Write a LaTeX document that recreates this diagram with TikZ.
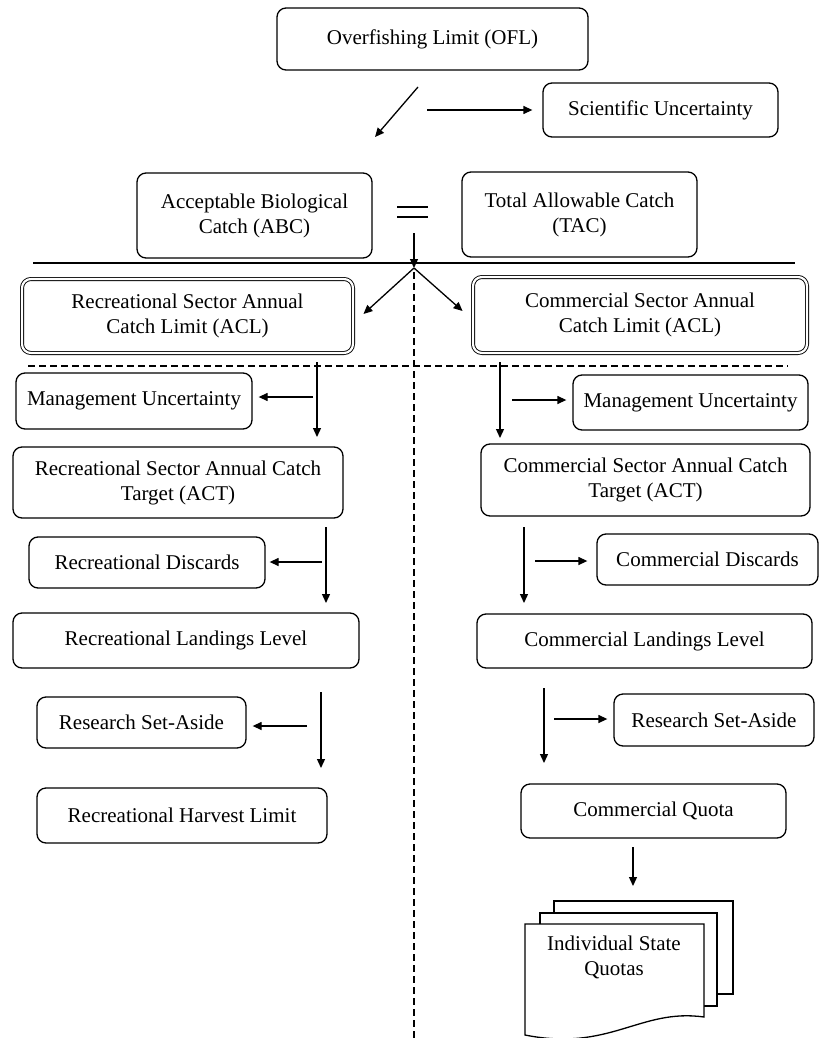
\documentclass[tikz,border=0pt]{standalone}
\usepackage{fontspec}
\setmainfont{Liberation Serif}
\usetikzlibrary{arrows.meta,positioning}

\begin{document}
\begin{tikzpicture}[x=1pt,y=-1pt,
        every node/.style={font=\fontsize{21}{25}\selectfont, align=center},
        box/.style={draw, rounded corners=9pt, line width=1.3pt, inner sep=2pt},
        dbox/.style={box, double, double distance=2.2pt, line width=0.9pt},
        arr/.style={-{Triangle[length=9pt,width=8pt]}, line width=1.3pt},
        sep/.style={line width=1.2pt, dash pattern=on 7pt off 4pt},
        sheet/.style={draw, fill=white, line width=1.3pt}]
    \useasboundingbox (0,0) rectangle (821,1038);

    % top part
    \node[box, minimum width=311pt, minimum height=62pt] (ofl) at (432.5,39) {Overfishing Limit (OFL)};
    \node[box, minimum width=235pt, minimum height=54pt] (sci) at (660.5,110) {Scientific Uncertainty};
    \node[box, minimum width=235pt, minimum height=85pt] (abc) at (254.5,215.5) {Acceptable Biological\\Catch (ABC)};
    \node[box, minimum width=235pt, minimum height=85pt] (tac) at (579.5,214.5) {Total Allowable Catch\\(TAC)};

    \coordinate (d1) at (418,87);
    \coordinate (d2) at (375,137);
    \coordinate (s1) at (427,110);
    \draw[arr] (d1) -- (d2);
    \draw[arr] (s1) -- ([xshift=-10pt]sci.west);

    \draw[line width=1.3pt] (397,207) -- (428,207) (397,217) -- (428,217);

    % split into the two sectors
    \coordinate (eq) at (414,233);
    \coordinate (j) at (414,268);
    \draw[line width=1.3pt] (33,263) -- (795,263);
    \draw[arr] (eq) -- (j);
    \draw[sep] (414,272) -- (414,1038);
    \draw[sep] (28,366) -- (788,366);

    \node[dbox, minimum width=331pt, minimum height=74pt] (racl) at (187.5,316) {Recreational Sector Annual\\Catch Limit (ACL)};
    \node[dbox, minimum width=334pt, minimum height=76pt] (cacl) at (640,315) {Commercial Sector Annual\\Catch Limit (ACL)};
    \draw[arr] (j) -- ([xshift=10pt,yshift=2pt]racl.east);
    \draw[arr] (j) -- ([xshift=-10pt,yshift=4pt]cacl.west);

    % recreational side
    \node[box, minimum width=236pt, minimum height=56pt] (rmu) at (134,401) {Management Uncertainty};
    \node[box, minimum width=330pt, minimum height=71pt] (ract) at (178,482.5) {Recreational Sector Annual Catch\\Target (ACT)};
    \node[box, minimum width=236pt, minimum height=51pt] (rdis) at (147,562.5) {Recreational Discards};
    \node[box, minimum width=346pt, minimum height=55pt] (rland) at (186,640.5) {Recreational Landings Level};
    \node[box, minimum width=209pt, minimum height=51pt] (rrsa) at (141.5,722.5) {Research Set-Aside};
    \node[box, minimum width=290pt, minimum height=55pt] (rhl) at (182,815.5) {Recreational Harvest Limit};

    \coordinate (l1a) at (317,362);  \coordinate (l1b) at (317,437);  \coordinate (l1s) at (313,397);
    \coordinate (l2a) at (326,527);  \coordinate (l2b) at (326,603);  \coordinate (l2s) at (322,562);
    \coordinate (l3a) at (321,692);  \coordinate (l3b) at (321,768);  \coordinate (l3s) at (307,726);
    \draw[arr] (l1a) -- (l1b);
    \draw[arr] (l1s) -- ([xshift=6pt]rmu.east |- l1s);
    \draw[arr] (l2a) -- (l2b);
    \draw[arr] (l2s) -- ([xshift=4pt]rdis.east |- l2s);
    \draw[arr] (l3a) -- (l3b);
    \draw[arr] (l3s) -- ([xshift=6pt]rrsa.east |- l3s);

    % commercial side
    \node[box, minimum width=235pt, minimum height=55pt] (cmu) at (690.5,402.5) {Management Uncertainty};
    \node[box, minimum width=329pt, minimum height=72pt] (cact) at (645.5,480) {Commercial Sector Annual Catch\\Target (ACT)};
    \node[box, minimum width=221pt, minimum height=51pt] (cdis) at (707.5,559.5) {Commercial Discards};
    \node[box, minimum width=335pt, minimum height=54pt] (cland) at (644.5,641) {Commercial Landings Level};
    \node[box, minimum width=200pt, minimum height=52pt] (crsa) at (714,720) {Research Set-Aside};
    \node[box, minimum width=265pt, minimum height=54pt] (cq) at (653.5,811) {Commercial Quota};

    \coordinate (r1a) at (500,362);  \coordinate (r1b) at (500,438);  \coordinate (r1s) at (512,400);
    \coordinate (r2a) at (524,527);  \coordinate (r2b) at (524,603);  \coordinate (r2s) at (535,561);
    \coordinate (r3a) at (544,688);  \coordinate (r3b) at (544,763);  \coordinate (r3s) at (554,719);
    \draw[arr] (r1a) -- (r1b);
    \draw[arr] (r1s) -- ([xshift=-6pt]cmu.west |- r1s);
    \draw[arr] (r2a) -- (r2b);
    \draw[arr] (r2s) -- ([xshift=-9pt]cdis.west |- r2s);
    \draw[arr] (r3a) -- (r3b);
    \draw[arr] (r3s) -- ([xshift=-6pt]crsa.west |- r3s);

    % state quotas
    \coordinate (q1) at (633,847);
    \coordinate (q2) at (633,886);
    \draw[arr] (q1) -- (q2);
    \draw[sheet] (554,994) rectangle (733,901);
    \draw[sheet] (540,1006) rectangle (717,913);
    \draw[sheet] (525,1035) -- (525,924) -- (704,924) -- (704,1017)
        .. controls (640,1008) and (610,1052) .. (525,1035) -- cycle;
    \node (isq) at (614,957) {Individual State\\Quotas};
\end{tikzpicture}
\end{document}
